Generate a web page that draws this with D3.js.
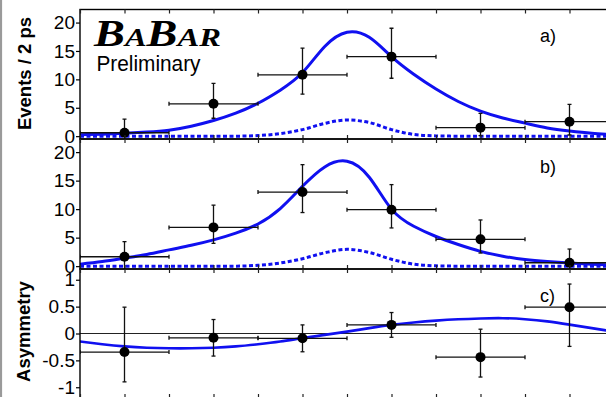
<!DOCTYPE html>
<html>
<head>
<meta charset="utf-8">
<script src="https://cdn.jsdelivr.net/npm/d3@7"></script>
<style>
	body { margin: 0; background: #fff; }
	text { font-family: "Liberation Sans", Arial, Helvetica, sans-serif; }
</style>
</head>
<body>
<svg id="chart" width="606" height="397"></svg>
<script>
// bins of 2 ps, centres in ps
var binCentres = [-5, -3, -1, 1, 3, 5];
var binHalf = 1;

// a) events / 2 ps
var aVal = [0.6, 5.7, 10.8, 14.0, 1.5, 2.55];
var aLo  = [-1, 3.15, 7.4, 10.2, 0.1, 0.2];
var aHi  = [3.0, 9.3, 15.5, 19.0, 4.0, 5.6];

// b) events / 2 ps
var bVal = [1.65, 6.8, 13.0, 9.9, 4.7, 0.6];
var bLo  = [-1, 4.0, 9.4, 6.7, 2.3, -1];
var bHi  = [4.3, 10.7, 17.8, 14.3, 8.1, 3.0];

// c) asymmetry
var cVal = [-0.345, -0.08, -0.09, 0.16, -0.44, 0.49];
var cLo  = [-0.9, -0.42, -0.34, -0.07, -0.81, -0.24];
var cHi  = [0.49, 0.26, 0.16, 0.39, 0.08, 0.92];

// fit curves
var curveT = [-6, -5.5, -5, -4.5, -4, -3.5, -3, -2.5, -2, -1.5, -1, -0.5, 0, 0.5, 1, 1.5, 2, 2.5, 3, 3.5, 4, 4.5, 5, 5.5, 6];
var aFit = [0.25, 0.35, 0.5, 0.72, 1.05, 1.75, 2.75, 4.05, 5.8, 8.1, 11.2, 15.8, 18.3, 17.4, 14.0, 10.9, 8.3, 6.1, 4.4, 3.2, 2.3, 1.45, 0.9, 0.5, 0.25];
var aSig = [0, 0, 0, 0, 0, 0, 0, 0, 0.1, 0.45, 1.15, 2.25, 2.85, 2.4, 1.15, 0.3, 0.05, 0, 0, 0, 0, 0, 0, 0, 0];
var bFit = [0.35, 0.8, 1.4, 2.05, 2.85, 3.65, 4.6, 5.8, 7.4, 10.1, 14.0, 17.4, 18.4, 15.6, 10.0, 7.0, 5.2, 3.8, 2.6, 1.75, 1.15, 0.8, 0.55, 0.35, 0.2];
var bSig = [0, 0, 0, 0, 0, 0, 0, 0, 0.15, 0.55, 1.3, 2.35, 2.95, 2.4, 1.2, 0.35, 0.05, 0, 0, 0, 0, 0, 0, 0, 0];
var cFit = [-0.15, -0.2, -0.24, -0.265, -0.275, -0.275, -0.265, -0.24, -0.2, -0.15, -0.085, -0.025, 0.035, 0.1, 0.16, 0.205, 0.24, 0.265, 0.28, 0.285, 0.265, 0.225, 0.165, 0.1, 0.035];

var countTicks = [0, 5, 10, 15, 20];
var asymTicks = [-1, -0.5, 0, 0.5, 1];
var timeTicks = d3.range(-6, 7, 1);

var BLUE = "#1010f0";

var svg = d3.select("#chart");

var x = d3.scaleLinear().domain([-6, 6]).range([80, 614]);

var panels = [
	{ id: "a", top: 9.5, bottom: 139, domain: [-0.5, 22.3], ticks: countTicks, val: aVal, lo: aLo, hi: aHi, fit: aFit, sig: aSig, tag: "a)", tagY: 41.5 },
	{ id: "b", top: 139, bottom: 269, domain: [-0.5, 22.3], ticks: countTicks, val: bVal, lo: bLo, hi: bHi, fit: bFit, sig: bSig, tag: "b)", tagY: 173 },
	{ id: "c", top: 269, bottom: 398, domain: [-1.2, 1.2], ticks: asymTicks, val: cVal, lo: cLo, hi: cHi, fit: cFit, sig: null, tag: "c)", tagY: 302 }
];

// left edge remnant of neighbouring figure
svg.append("line")
	.attr("x1", 1).attr("x2", 1)
	.attr("y1", 0).attr("y2", 397)
	.attr("stroke", "#9a9a9a")
	.attr("stroke-width", 2.2);

panels.forEach(function(p) {
	var y = d3.scaleLinear().domain(p.domain).range([p.bottom, p.top]);
	var g = svg.append("g");

	g.append("clipPath")
		.attr("id", "clip_" + p.id)
		.append("rect")
			.attr("x", 80).attr("y", p.top)
			.attr("width", 534).attr("height", p.bottom - p.top);

	var inner = g.append("g").attr("clip-path", "url(#clip_" + p.id + ")");

	if (p.id == "c") {
		inner.append("line")
			.attr("x1", 80).attr("x2", 614)
			.attr("y1", y(0)).attr("y2", y(0))
			.attr("stroke", "#222")
			.attr("stroke-width", 1.2);
	}

	var line = d3.line()
		.x(function(d, i) { return x(curveT[i]); })
		.y(function(d) { return y(d); });

	if (p.sig) {
		inner.append("path")
			.datum(p.sig)
			.attr("d", line.curve(d3.curveMonotoneX))
			.attr("fill", "none")
			.attr("stroke", BLUE)
			.attr("stroke-width", 3)
			.attr("stroke-dasharray", "4,2.5");
	}

	inner.append("path")
		.datum(p.fit)
		.attr("d", line.curve(d3.curveNatural))
		.attr("fill", "none")
		.attr("stroke", BLUE)
		.attr("stroke-width", p.id == "c" ? 2.6 : 3);

	// error bars
	var pts = binCentres.map(function(t, i) {
		return { t: t, v: p.val[i], lo: p.lo[i], hi: p.hi[i] };
	});
	var eb = inner.append("g")
		.attr("stroke", "#111")
		.attr("stroke-width", 1.3);
	pts.forEach(function(d) {
		var cx = x(d.t), cy = y(d.v);
		eb.append("line").attr("x1", x(d.t - binHalf)).attr("x2", x(d.t + binHalf)).attr("y1", cy).attr("y2", cy);
		eb.append("line").attr("x1", x(d.t - binHalf)).attr("x2", x(d.t - binHalf)).attr("y1", cy - 2).attr("y2", cy + 2);
		eb.append("line").attr("x1", x(d.t + binHalf)).attr("x2", x(d.t + binHalf)).attr("y1", cy - 2).attr("y2", cy + 2);
		eb.append("line").attr("x1", cx).attr("x2", cx).attr("y1", y(d.lo)).attr("y2", y(d.hi));
		eb.append("line").attr("x1", cx - 2).attr("x2", cx + 2).attr("y1", y(d.hi)).attr("y2", y(d.hi));
		eb.append("line").attr("x1", cx - 2).attr("x2", cx + 2).attr("y1", y(d.lo)).attr("y2", y(d.lo));
	});
	inner.selectAll("circle")
		.data(pts)
		.enter().append("circle")
			.attr("cx", function(d) { return x(d.t); })
			.attr("cy", function(d) { return y(d.v); })
			.attr("r", 5)
			.attr("fill", "#000");

	// frame
	g.append("rect")
		.attr("x", 80).attr("y", p.top)
		.attr("width", 534).attr("height", p.bottom - p.top)
		.attr("fill", "none")
		.attr("stroke", "#000")
		.attr("stroke-width", 1.4);

	// time ticks, inward at top and bottom
	g.append("g")
		.attr("transform", "translate(0," + p.top + ")")
		.call(d3.axisTop(x).tickValues(timeTicks).tickSize(-4).tickFormat(""))
		.call(function(s) { s.select(".domain").remove(); s.selectAll("line").attr("stroke", "#222").attr("stroke-width", 1.2); });
	g.append("g")
		.attr("transform", "translate(0," + p.bottom + ")")
		.call(d3.axisBottom(x).tickValues(timeTicks).tickSize(-4).tickFormat(""))
		.call(function(s) { s.select(".domain").remove(); s.selectAll("line").attr("stroke", "#222").attr("stroke-width", 1.2); });

	// value axis
	g.append("g")
		.attr("transform", "translate(80,0)")
		.call(d3.axisLeft(y).tickValues(p.ticks).tickSize(4).tickPadding(1).tickFormat(function(d) { return String(d); }))
		.call(function(s) {
			s.select(".domain").remove();
			s.selectAll("line").attr("stroke", "#000").attr("stroke-width", 1.2);
			s.selectAll("text")
				.attr("fill", "#000")
				.style("font-family", "'Liberation Sans', Arial, sans-serif")
				.style("font-size", "19px");
		});

	g.append("text")
		.attr("x", 540)
		.attr("y", p.tagY)
		.style("font-size", "18px")
		.text(p.tag);
});

// axis titles
svg.append("text")
	.attr("transform", "translate(31,73.5) rotate(-90)")
	.attr("text-anchor", "middle")
	.style("font-size", "18.5px")
	.style("font-weight", "bold")
	.text("Events / 2 ps");

svg.append("text")
	.attr("transform", "translate(30,331.5) rotate(-90)")
	.attr("text-anchor", "middle")
	.style("font-size", "18.5px")
	.style("font-weight", "bold")
	.text("Asymmetry");

// experiment label
var logo = svg.append("text")
	.attr("x", 94)
	.attr("y", 46)
	.attr("textLength", 127)
	.attr("lengthAdjust", "spacingAndGlyphs")
	.style("font-family", "'Liberation Serif', 'Times New Roman', serif")
	.style("font-style", "italic")
	.style("font-weight", "bold");
[["B", 37], ["A", 26], ["B", 37], ["AR", 26]].forEach(function(s) {
	logo.append("tspan").style("font-size", s[1] + "px").text(s[0]);
});

svg.append("text")
	.attr("x", 96.5)
	.attr("y", 71)
	.attr("textLength", 104)
	.attr("lengthAdjust", "spacingAndGlyphs")
	.style("font-size", "22px")
	.text("Preliminary");
</script>
</body>
</html>
